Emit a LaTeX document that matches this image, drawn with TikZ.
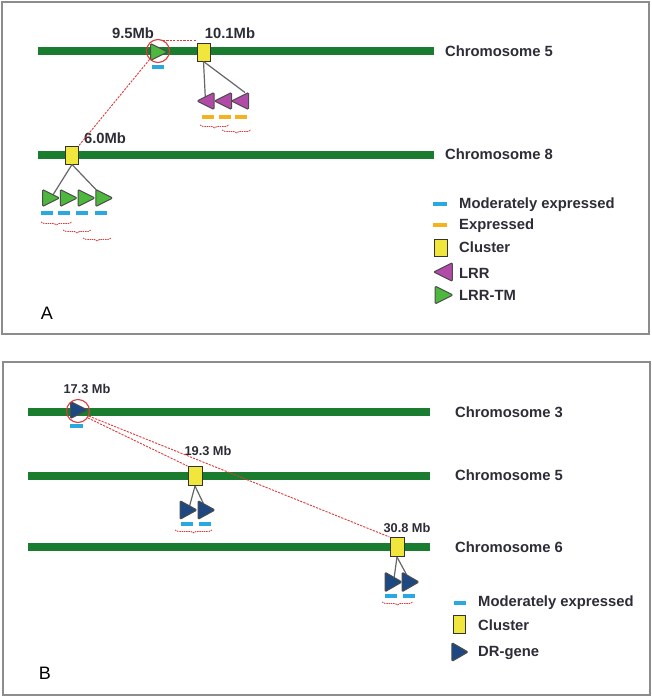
\documentclass[tikz,border=0pt]{standalone}
\usepackage{fontspec}
\setmainfont{Liberation Sans}
\usetikzlibrary{decorations.pathreplacing}
\definecolor{chrgreen}{RGB}{26,124,46}
\definecolor{clyellow}{RGB}{240,230,60}
\definecolor{lrrmag}{RGB}{178,74,168}
\definecolor{tmgreen}{RGB}{78,184,62}
\definecolor{modblue}{RGB}{42,168,224}
\definecolor{exporange}{RGB}{245,178,30}
\definecolor{drblue}{RGB}{30,72,130}
\definecolor{linkred}{RGB}{220,60,60}
\definecolor{txt}{RGB}{45,45,55}
\definecolor{frame}{RGB}{140,140,140}
\tikzset{
  bar/.style={draw=chrgreen, line width=8pt},
  chr/.style={anchor=west, inner sep=0pt, text=txt, font=\fontsize{14.8}{16}\selectfont\bfseries},
  leg/.style={anchor=west, inner sep=0pt, text=txt, font=\fontsize{14.8}{16}\selectfont\bfseries},
  mb/.style={inner sep=0pt, text=txt, font=\fontsize{14.8}{16}\selectfont\bfseries},
  mbb/.style={inner sep=0pt, text=txt, font=\fontsize{12.8}{14}\selectfont\bfseries},
  cluster/.style={draw=black!80, fill=clyellow, line width=1pt, minimum width=13pt, minimum height=18pt, inner sep=0pt},
  hl/.style={circle, draw=linkred, line width=1.1pt, minimum size=23pt, inner sep=0pt},
  link/.style={draw=linkred, dashed, dash pattern=on 2.2pt off 1.2pt, line width=0.9pt},
  stem/.style={draw=black!60, line width=1.2pt},
  moddash/.style={draw=modblue, line width=3.5pt},
  expdash/.style={draw=exporange, line width=3.5pt},
  brk/.style={draw=linkred, dashed, dash pattern=on 1.5pt off 0.8pt, line width=0.8pt, decorate, decoration={brace, mirror, amplitude=2.8pt}},
  rtri/.pic={
    \coordinate (-c) at (0,0);
    \coordinate (-bt) at (-8.5,-8.5);
    \path[pic actions, rounded corners=1.2pt, line width=1pt] (-8.5,-8.5) -- (8.5,0) -- (-8.5,8.5) -- cycle;
  },
  ltri/.pic={
    \coordinate (-c) at (0,0);
    \coordinate (-bt) at (8.5,-8.5);
    \path[pic actions, rounded corners=1.2pt, line width=1pt] (8.5,-8.5) -- (-8.5,0) -- (8.5,8.5) -- cycle;
  },
  tm/.style={draw=black!70, fill=tmgreen},
  lrr/.style={draw=black!70, fill=lrrmag},
  dr/.style={draw=black!70, fill=drblue},
}
\begin{document}
\begin{tikzpicture}[x=1pt,y=-1pt]
\useasboundingbox (0,0) rectangle (652,697);
\fill[white] (0,0) rectangle (652,697);
% frames
\draw[frame, line width=1.8pt] (2,2) rectangle (649,334);
\draw[frame, line width=1.8pt] (3,362) rectangle (650,695);

% ================= Panel A =================
\draw[bar] (38,51) -- (434,51);
\draw[bar] (38,155) -- (434,155);
\node[chr] (c5a) at (445,51) {Chromosome 5};
\node[chr] (c8a) at (445,154) {Chromosome 8};

\node[cluster] (k10) at (203.5,52) {};
\node[cluster] (k6) at (72,155) {};
\node[mb] (l95) at (133,33) {9.5Mb};
\node[mb] (l101) at (230,33) {10.1Mb};
\node[mb] (l60) at (105,138) {6.0Mb};

% cluster 10.1 Mb genes (LRR)
\coordinate (m1p) at (205.5,101);
\coordinate (m2p) at (223,101);
\coordinate (m3p) at (240,101);
\draw[stem] (k10.south) -- (m1p);
\draw[stem] (k10.south) -- (245,92.5);
\pic[lrr] (m1) at (m1p) {ltri};
\pic[lrr] (m2) at (m2p) {ltri};
\pic[lrr] (m3) at (m3p) {ltri};
\draw[expdash] (202,117) -- (214,117);
\draw[expdash] (219,117) -- (231,117);
\draw[expdash] (235,117) -- (247,117);
\draw[brk] (200,125) -- (229,125);
\draw[brk] (222,130) -- (251,130);

% cluster 6.0 Mb genes (LRR-TM)
\draw[stem] (k6.south) -- (51,198);
\draw[stem] (k6.south) -- (104,198);
\pic[tm] (g1) at (51,198) {rtri};
\pic[tm] (g2) at (68.75,198) {rtri};
\pic[tm] (g3) at (86.5,198) {rtri};
\pic[tm] (g4) at (104.25,198) {rtri};
\draw[moddash] (41,213) -- (53,213);
\draw[moddash] (58,213) -- (70,213);
\draw[moddash] (76,213) -- (88,213);
\draw[moddash] (95,213) -- (107,213);
\draw[brk] (41,222) -- (72,222);
\draw[brk] (63,230) -- (91,230);
\draw[brk] (83,238) -- (111,238);

% highlighted gene 9.5 Mb
\pic[tm] (g0) at (159,52) {rtri};
\draw[moddash] (152,67) -- (164,67);
\node[hl] (hA) at (158,51) {};
\draw[link] (hA.65) -- (hA.65 -| k10.west);
\draw[link] (hA.225) -- (k6.north east);

% legend A
\draw[moddash] (433,204) -- (447,204);
\node[leg] (la1) at (459,205) {Moderately expressed};
\draw[expdash] (433,225) -- (447,225);
\node[leg] (la2) at (459,226) {Expressed};
\node[cluster, minimum height=17pt] (lak) at (440.5,247.5) {};
\node[leg] (la3) at (459,247) {Cluster};
\pic[lrr, scale=1.1] (lam) at (443,272) {ltri};
\node[leg] (la4) at (459,273) {LRR};
\pic[tm, scale=1.05] (lag) at (444,295) {rtri};
\node[leg] (la5) at (459,295) {LRR-TM};
\node[inner sep=0pt, font=\fontsize{18}{20}\selectfont] (pa) at (47,313) {A};

% ================= Panel B =================
\draw[bar] (28,412) -- (430,412);
\draw[bar] (28,476) -- (430,476);
\draw[bar] (28,547) -- (430,547);
\node[chr] (c3b) at (455,412) {Chromosome 3};
\node[chr] (c5b) at (455,475) {Chromosome 5};
\node[chr] (c6b) at (455,547) {Chromosome 6};

\node[cluster, minimum width=14pt, minimum height=19pt] (k19) at (195,476) {};
\node[cluster, minimum width=14pt, minimum height=19pt] (k30) at (397,547) {};
\node[mbb] (l173) at (87,389) {17.3 Mb};
\node[mbb] (l193) at (208,451) {19.3 Mb};
\node[mbb] (l308) at (407,528) {30.8 Mb};

% cluster 19.3
\draw[stem] (k19.south) -- (188.5,510);
\draw[stem] (k19.south) -- (206.5,510);
\pic[dr, yscale=1.1] (b1) at (188.5,510) {rtri};
\pic[dr, yscale=1.1] (b2) at (206.5,510) {rtri};
\draw[moddash] (181,524) -- (193,524);
\draw[moddash] (199,524) -- (211,524);
\draw[brk] (175,530) -- (212,530);

% cluster 30.8
\draw[stem] (k30.south) -- (393.5,582);
\draw[stem] (k30.south) -- (410.5,582);
\pic[dr, yscale=1.15] (b3) at (393.5,582) {rtri};
\pic[dr, yscale=1.15] (b4) at (410.5,582) {rtri};
\draw[moddash] (385,596) -- (397,596);
\draw[moddash] (403,596) -- (415,596);
\draw[brk] (382,602) -- (413,602);

% highlighted gene 17.3
\pic[dr] (b0) at (79,410) {rtri};
\draw[moddash] (70,426) -- (83,426);
\node[hl] (hB) at (78,411) {};
\draw[link] (hB.-35) -- (k19.north west);
\draw[link] (hB.-25) -- (k30.north west);

% legend B
\draw[moddash] (454,603) -- (466,603);
\node[leg] (lb1) at (478,603) {Moderately expressed};
\node[cluster, minimum width=12pt] (lbk) at (459,624) {};
\node[leg] (lb2) at (478,625) {Cluster};
\pic[dr, xscale=0.95, yscale=1.1] (lbd) at (460,652) {rtri};
\node[leg] (lb3) at (478,653) {DR-gene};
\node[inner sep=0pt, font=\fontsize{18}{20}\selectfont] (pb) at (45,673) {B};
\end{tikzpicture}
\end{document}
